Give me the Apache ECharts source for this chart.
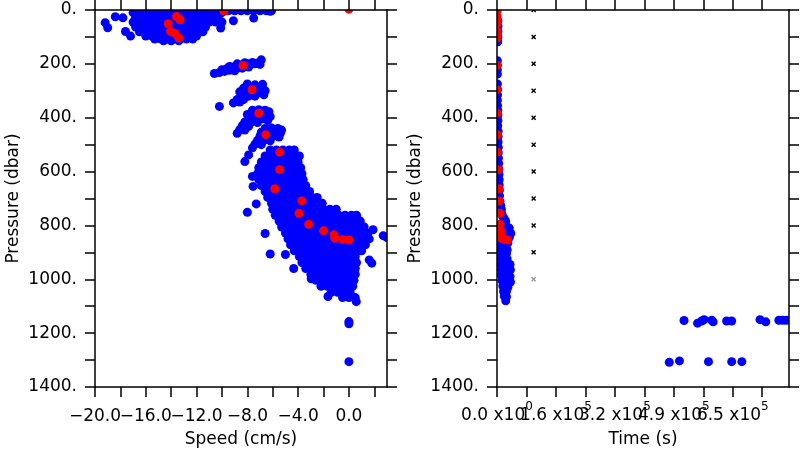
<!DOCTYPE html>
<html><head><meta charset="utf-8">
<script src="https://cdn.jsdelivr.net/npm/echarts@6/dist/echarts.min.js"></script>
<style>html,body{margin:0;padding:0;background:#fff}#c{width:800px;height:450px}</style>
</head><body><div id="c"></div>
<script>
// ---- axis ticks / labels ----
const speedTicks = [-20,-18,-16,-14,-12,-10,-8,-6,-4,-2,0,2];
const speedLabelValuesA = [-20,-12,-4];
const speedLabelValuesB = [-16,-8,0];
const pressureTicks = [0,100,200,300,400,500,600,700,800,900,1000,1100,1200,1300,1400];
const pressureLabelValues = [0,200,400,600,800,1000,1200,1400];
const timeTicks = [0,81250,162500,243750,325000,406250,487500,568750,650000,731250];
const timeLabelValuesA = [0,325000,650000];
const timeLabelValuesB = [162500,487500];
const timeLabelValues = [0,162500,325000,487500,650000];
const timeLabelMantissa = ['0.0','1.6','3.2','4.9','6.5'];
const timeLabelExponent = ['0','5','5','5','5'];

// ---- left panel: speed (cm/s) vs pressure (dbar), blue samples ----
const blueSurfaceRows = [
 [10, [-17.0,-16.5,-16.0,-15.5,-15.0,-14.5,-14.0,-13.5,-13.0,-12.5,-12.0,-11.5,-11.0,-10.5,-10.0]],
 [3, [-9.5,-9.0,-8.5,-8.0,-7.5,-7.0,-6.5,-6.1]],
 [27, [-16.8,-16.3,-15.8,-15.3,-14.8,-14.3,-13.8,-13.3,-12.8,-12.3,-11.8,-11.3,-10.8,-10.3]],
 [45, [-17.0,-16.5,-16.0,-15.5,-15.0,-14.5,-14.0,-13.5,-13.0,-12.5,-12.0,-11.5,-11.0,-10.5,-10.0]],
 [63, [-16.8,-16.3,-15.8,-15.3,-14.8,-14.3,-13.8,-13.3,-12.8,-12.3,-11.8,-11.3]],
 [81, [-16.5,-16.0,-15.5,-15.0,-14.5,-14.0,-13.5,-13.0,-12.5,-12.0,-11.5]],
 [97, [-16.0,-15.5,-15.0,-14.5,-14.0,-13.5,-13.0,-12.5,-12.0]],
 [108, [-15.3,-14.8,-14.3,-13.8,-13.3,-12.8,-12.3]],
 [114, [-14.6,-14.0,-13.4]]
];
const blueSurfaceOutliers = [[-19.2,47],[-19.0,66],[-18.4,25],[-17.8,29],[-17.6,80],[-17.2,97],[-9.1,40],[-7.5,30],[-10.1,67],[-6.2,5]];
const blueSlab1 = [[-10.6,236],[-10.2,232],[-9.8,228],[-9.4,224],[-9.0,219],[-8.6,214],[-8.2,209],[-7.8,204],[-7.4,200],[-7.6,195],[-8.0,200],[-8.4,203],[-8.8,207],[-9.2,212],[-9.6,217],[-10.0,222],[-6.9,185],[-7.2,197],[-9.0,226],[-8.4,216],[-8.8,200],[-8.2,196],[-9.4,210],[-7.9,212],[-7.0,202]];
const blueSlab2 = [[-8.0,275],[-7.4,278],[-6.8,276],[-8.3,290],[-7.8,290],[-7.3,292],[-6.8,290],[-6.6,300],[-8.6,304],[-8.1,305],[-7.6,305],[-7.1,306],[-6.7,315],[-8.4,318],[-7.9,320],[-7.4,320],[-8.8,332],[-8.3,333],[-9.1,345],[-8.6,342],[-10.2,358]];
const blueSlab3 = [[-7.6,372],[-7.1,370],[-6.6,372],[-6.3,378],[-8.0,388],[-7.5,386],[-7.0,388],[-6.5,390],[-6.2,396],[-7.8,402],[-7.3,402],[-6.8,404],[-6.4,410],[-8.2,416],[-7.7,416],[-7.2,418],[-8.4,430],[-7.9,432],[-8.6,444],[-8.2,446],[-8.8,458]];
const blueSlab4 = [[-6.6,440],[-6.1,438],[-5.6,440],[-5.3,446],[-6.9,454],[-6.4,454],[-5.9,455],[-5.4,458],[-7.0,468],[-6.5,470],[-6.0,470],[-5.5,472],[-7.2,484],[-6.7,485],[-6.2,486],[-7.4,498],[-6.9,500],[-7.6,512],[-7.9,538],[-8.2,563]];
const blueDeepRows = [
 [520, [-6.2,-5.7,-5.2,-4.7,-4.3]],
 [542, [-6.6,-6.1,-5.6,-5.1,-4.6,-4.2,-3.9]],
 [564, [-6.9,-6.4,-5.9,-5.4,-4.9,-4.4,-4.0]],
 [586, [-7.1,-6.6,-6.1,-5.6,-5.1,-4.6,-4.1,-3.8]],
 [608, [-7.2,-6.7,-6.2,-5.7,-5.2,-4.7,-4.2,-3.7]],
 [630, [-7.1,-6.6,-6.1,-5.6,-5.1,-4.6,-4.1,-3.6]],
 [652, [-6.9,-6.4,-5.9,-5.4,-4.9,-4.4,-3.9,-3.4]],
 [674, [-6.6,-6.1,-5.6,-5.1,-4.6,-4.1,-3.6,-3.1]],
 [696, [-6.4,-5.9,-5.4,-4.9,-4.4,-3.9,-3.4,-2.9,-2.5]],
 [718, [-6.1,-5.6,-5.1,-4.6,-4.1,-3.6,-3.1,-2.6,-2.1]],
 [740, [-6.0,-5.5,-5.0,-4.5,-4.0,-3.5,-3.0,-2.5,-2.0,-1.5,-1.0]],
 [762, [-5.8,-5.3,-4.8,-4.3,-3.8,-3.3,-2.8,-2.3,-1.8,-1.3,-0.8,-0.3,0.2,0.6]],
 [784, [-5.5,-5.0,-4.5,-4.0,-3.5,-3.0,-2.5,-2.0,-1.5,-1.0,-0.5,0.0,0.5,0.9]],
 [806, [-5.3,-4.8,-4.3,-3.8,-3.3,-2.8,-2.3,-1.8,-1.3,-0.8,-0.3,0.2,0.7,1.2]],
 [828, [-5.0,-4.5,-4.0,-3.5,-3.0,-2.5,-2.0,-1.5,-1.0,-0.5,0.0,0.5,1.0,1.5]],
 [850, [-4.8,-4.3,-3.8,-3.3,-2.8,-2.3,-1.8,-1.3,-0.8,-0.3,0.2,0.7,1.2,1.6]],
 [872, [-4.6,-4.1,-3.6,-3.1,-2.6,-2.1,-1.6,-1.1,-0.6,-0.1,0.4,0.9,1.3]],
 [894, [-4.3,-3.8,-3.3,-2.8,-2.3,-1.8,-1.3,-0.8,-0.3,0.2,0.7,1.0]],
 [916, [-3.9,-3.4,-2.9,-2.4,-1.9,-1.4,-0.9,-0.4,0.1,0.5]],
 [938, [-3.7,-3.2,-2.7,-2.2,-1.7,-1.2,-0.7,-0.2,0.3,0.6]],
 [960, [-3.4,-2.9,-2.4,-1.9,-1.4,-0.9,-0.4,0.1,0.5]],
 [982, [-3.0,-2.5,-2.0,-1.5,-1.0,-0.5,0.0,0.5]],
 [1004, [-2.6,-2.1,-1.6,-1.1,-0.6,-0.1,0.4]],
 [1026, [-2.2,-1.7,-1.2,-0.7,-0.2,0.3]],
 [1048, [-1.4,-0.9,-0.4,0.1]],
 [1068, [-0.5,0.0,0.5]]
];
const blueDeepOutliers = [[-8.0,751],[-7.3,720],[-6.6,830],[-6.2,906],[-5.0,908],[-4.35,960],[-7.55,655],[-7.6,618],[-2.97,998],[-1.65,1064],[0.58,1083],[1.9,816],[2.7,838],[3.0,845],[1.6,928],[1.8,940],[0,1157],[0,1165],[0,1306]];
// red (profile) points
const redSpeed = [[-14.24,51],[-14.05,79],[-13.58,24],[-13.3,36],[-13.7,86],[-13.4,104],[-9.85,4],[0,-3],[-8.34,206],[-7.63,296],[-7.1,383],[-6.55,463],[-5.45,528],[-5.45,593],[-5.84,664],[-3.7,709],[-3.93,755],[-3.17,796],[-2.0,820],[-1.18,835],[-1.1,848],[-0.5,852],[0,854]];

// ---- right panel: time (s) vs pressure (dbar) ----
const blueTime = [[2500,40],[2500,60],[2500,80],[2500,100],[2000,118],
 [1000,188],[1000,205],[1000,222],[1000,238],
 [1000,275],[1500,295],[1500,315],[1000,335],[1500,355],[2000,372],[2500,390],[2500,410],[2000,430],[3000,450],[3000,470],[3000,490],[3500,510],[3500,530],[4000,550],
 [4500,570],[5000,590],[5500,610],[6000,630],[6000,650],[6500,670],[7000,690],
 [8000,710],[10000,725],[12000,740],[13000,755],
 [15000,765],[20000,775],[24000,785],[22000,795],
 [3000,805],[10000,805],[18000,805],[26000,805],[34000,810],[6000,825],[14000,825],[22000,825],[30000,825],[38000,830],[3000,845],[10000,845],[18000,845],[26000,845],[34000,845],[6000,865],[14000,865],[22000,865],[30000,865],
 [8000,885],[16000,885],[24000,885],[28000,890],[10000,905],[18000,905],[26000,905],[12000,925],[20000,925],[28000,925],
 [10000,945],[18000,945],[26000,945],[36000,945],[12000,965],[20000,965],[28000,965],[37000,965],[12000,985],[20000,985],[28000,985],[36000,990],[14000,1005],[22000,1005],[30000,1005],[37000,1010],
 [16000,1025],[24000,1025],[30000,1030],[18000,1045],[26000,1045],[20000,1062],[26000,1065],[24000,1080]];
const blueTimeLate = [[515700,1153],[553000,1163],[564000,1155],[571000,1150],[592000,1152],[596000,1158],[633000,1155],[647000,1155],[725000,1150],[741000,1158],[777000,1152],[788000,1152],[798000,1152],[475000,1308],[503000,1303],[583000,1306],[647000,1306],[675000,1306]];
const redTime = [[0,-3],[0,4],[0,24],[0,36],[0,51],[0,79],[0,86],[0,104],[0,206],[0,296],[500,383],[1400,463],[1400,528],[4000,593],[5800,664],[5800,709],[8500,755],[8500,796],[10500,820],[10500,835],[12000,848],[20000,852],[29000,854]];
const markerTime = 101000;
const markerPressures = [0,100,200,300,400,500,600,700,800,900,1000];

// ---- build ----
const FONT = 'DejaVu Sans';
const toPairs = rows => rows.flatMap(([p, vs]) => vs.map(v => [v, p]));
const blueSpeed = [].concat(toPairs(blueSurfaceRows), blueSurfaceOutliers, blueSlab1, blueSlab2, blueSlab3, blueSlab4, toPairs(blueDeepRows), blueDeepOutliers);

const lineS = {color:'#000', width:1.5};
const txt = {fontFamily:FONT, fontSize:17, color:'#000'};

function xAxisDef(grid, min, max, interval, ticks, pos, label, name, showLine) {
  return {
    gridIndex:grid, type:'value', min, max, interval, position:pos, offset:0, z:10,
    axisLine:{show:showLine, onZero:false, lineStyle:lineS},
    axisTick:{show:showLine, inside:false, length:10, lineStyle:lineS, customValues:ticks},
    axisLabel: label ? label : {show:false},
    splitLine:{show:false},
    name: name || '', nameLocation:'middle', nameGap:44, nameTextStyle:txt
  };
}
function yAxisDef(grid, pos, showLabel) {
  return {
    gridIndex:grid, type:'value', min:0, max:1400, interval:100, inverse:true, position:pos, z:10,
    axisLine:{show:true, onZero:false, lineStyle:lineS},
    axisTick:{show:true, inside:false, length:10, lineStyle:lineS, customValues:pressureTicks},
    axisLabel: showLabel ? Object.assign({show:true, margin:18, showMinLabel:true, showMaxLabel:true, customValues:pressureLabelValues, formatter: v => v + '.'}, txt) : {show:false},
    splitLine:{show:false},
    name: showLabel ? 'Pressure (dbar)' : '', nameLocation:'middle', nameGap:73, nameTextStyle:txt
  };
}
const speedFmt = v => (v < 0 ? '\u2212' : '') + Math.abs(v).toFixed(1);
const speedLabel = vals => Object.assign({show:true, margin:21, showMinLabel:true, showMaxLabel:true, customValues:vals, formatter: speedFmt}, txt);
const timeFmt = v => { const i = timeLabelValues.indexOf(v); return '{m|' + timeLabelMantissa[i] + ' x10}{s|' + timeLabelExponent[i] + '}'; };
const timeLabel = vals => ({show:true, margin:14, showMinLabel:true, showMaxLabel:true, customValues:vals, formatter: timeFmt,
  rich:{ m:{fontFamily:FONT, fontSize:17, color:'#000', lineHeight:30}, s:{fontFamily:FONT, fontSize:12, color:'#000', lineHeight:12, verticalAlign:'top'} }});

const G = [{left:95, top:10, width:292, height:377, containLabel:false, outerBoundsMode:'none'},
           {left:497, top:10, width:292, height:377, containLabel:false, outerBoundsMode:'none'}];
function masks(g) {
  const r = g.left + g.width, b = g.top + g.height;
  const mk = (x,y,w,h) => ({type:'rect', z:5, silent:true, shape:{x,y,width:w,height:h}, style:{fill:'#fff'}});
  return [mk(g.left-14, 0, g.width+28, g.top), mk(g.left-14, b, g.width+28, 12), mk(g.left-13, 0, 13, b+12), mk(r, 0, 12, b+12)];
}
const xMark = 'path://M0,2L2,0L5,3L8,0L10,2L7,5L10,8L8,10L5,7L2,10L0,8L3,5Z';

const option = {
  animation:false,
  backgroundColor:'#fff',
  grid: G,
  graphic:{elements: masks(G[0]).concat(masks(G[1]))},
  xAxis:[
    xAxisDef(0, -20, 3, 2, speedTicks, 'bottom', speedLabel(speedLabelValuesA), 'Speed (cm/s)', true),
    xAxisDef(0, -20, 3, 2, speedTicks, 'top', null, '', true),
    xAxisDef(0, -20, 3, 2, speedTicks, 'bottom', speedLabel(speedLabelValuesB), '', false),
    xAxisDef(1, 0, 805000, 81250, timeTicks, 'bottom', timeLabel(timeLabelValuesA), 'Time (s)', true),
    xAxisDef(1, 0, 805000, 81250, timeTicks, 'top', null, '', true),
    xAxisDef(1, 0, 805000, 81250, timeTicks, 'bottom', timeLabel(timeLabelValuesB), '', false)
  ],
  yAxis:[ yAxisDef(0,'left',true), yAxisDef(0,'right',false), yAxisDef(1,'left',true), yAxisDef(1,'right',false) ],
  series:[
    {type:'scatter', xAxisIndex:0, yAxisIndex:0, data:blueSpeed, symbolSize:9, clip:false, silent:true, itemStyle:{color:'#0000ff', opacity:1}},
    {type:'scatter', xAxisIndex:0, yAxisIndex:0, data:redSpeed, symbolSize:9, clip:false, silent:true, itemStyle:{color:'#ff0000', opacity:1}},
    {type:'scatter', xAxisIndex:3, yAxisIndex:2, data:blueTime.concat(blueTimeLate), symbolSize:9, clip:false, silent:true, itemStyle:{color:'#0000ff', opacity:1}},
    {type:'scatter', xAxisIndex:3, yAxisIndex:2, data:redTime, symbolSize:9, clip:false, silent:true, itemStyle:{color:'#ff0000', opacity:1}},
    {type:'scatter', xAxisIndex:3, yAxisIndex:2, symbol:xMark, symbolSize:5, clip:false, silent:true, itemStyle:{color:'#000', opacity:1},
     data: markerPressures.map((p, i) => i === markerPressures.length - 1 ? {value:[markerTime, p], itemStyle:{color:'#999'}} : [markerTime, p])}
  ]
};
const chart = echarts.init(document.getElementById('c'));
chart.setOption(option);
</script></body></html>
